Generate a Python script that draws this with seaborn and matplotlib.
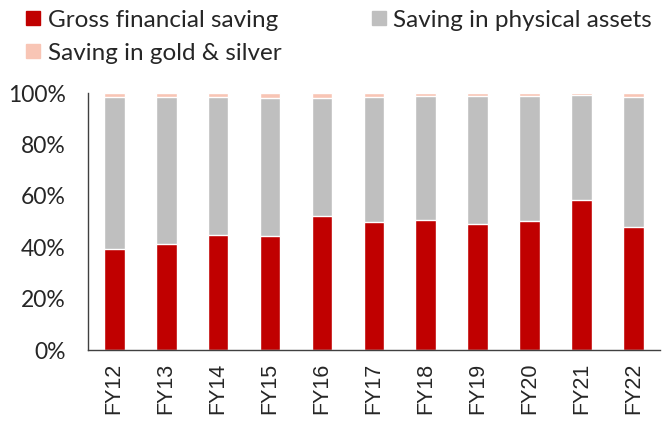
import pandas as pd
import matplotlib.pyplot as plt
import seaborn as sns
from matplotlib.lines import Line2D

years = ["FY12", "FY13", "FY14", "FY15", "FY16", "FY17",
         "FY18", "FY19", "FY20", "FY21", "FY22"]
gross_financial = [39.4, 41.4, 44.9, 44.5, 52.3, 49.7, 50.7, 48.9, 50.2, 58.5, 47.9]
gold_silver = [1.5, 1.5, 1.5, 1.9, 1.9, 1.5, 1.2, 1.0, 1.0, 0.9, 1.5]
physical_assets = [100 - g - s for g, s in zip(gross_financial, gold_silver)]

labels = ["Gross financial saving", "Saving in physical assets",
          "Saving in gold & silver"]
colors = ["#C00000", "#BFBFBF", "#F8C5B5"]

df = pd.DataFrame({
    "year": years,
    "gross": gross_financial,
    "physical": physical_assets,
    "gold": gold_silver,
})
df["stack2"] = df["gross"] + df["physical"]
df["stack3"] = df["stack2"] + df["gold"]

sns.set_style("white")
plt.rcParams["font.family"] = ["Lato", "DejaVu Sans"]

fig = plt.figure(figsize=(6.63, 4.23), dpi=100)
ax = fig.add_axes([0.133, 0.172, 0.862, 0.608])

# stacked bars: draw cumulative totals back to front
for col, color in zip(["stack3", "stack2", "gross"], colors[::-1]):
    sns.barplot(data=df, x="year", y=col, color=color, width=0.4,
                saturation=1, ax=ax)

ax.set_xlim(-0.5, len(years) - 0.5)
ax.set_ylim(0, 100)
ax.set_yticks(range(0, 101, 20))
ax.set_yticklabels([f"{v}%" for v in range(0, 101, 20)], fontsize=16.5)
ax.set_xlabel("")
ax.set_ylabel("")

ax.set_xticks(range(len(years)))
ax.set_xticklabels(years, rotation=90, fontsize=15.5,
                   family="Liberation Sans")
ax.set_xticks([i - 0.5 for i in range(len(years) + 1)], minor=True)
ax.tick_params(axis="x", which="major", length=0, pad=9)
ax.tick_params(axis="x", which="minor", length=6, width=1,
               color="#404040", direction="out")
ax.tick_params(axis="y", length=6, width=1, color="#404040",
               direction="out", pad=10)

sns.despine(ax=ax)
for side in ["left", "bottom"]:
    ax.spines[side].set_color("#404040")
    ax.spines[side].set_linewidth(1)

# legend filled column-wise, so order puts gold under gross
order = [0, 2, 1]
handles = [Line2D([], [], marker="s", linestyle="none", markersize=10,
                  markerfacecolor=colors[i], markeredgecolor=colors[i])
           for i in order]
fig.legend(handles, [labels[i] for i in order], loc="upper left",
           bbox_to_anchor=(0.021, 1.0), ncol=2, frameon=False,
           fontsize=17.5, handlelength=0.8, handletextpad=0.2,
           columnspacing=3.6, labelspacing=0.5, borderaxespad=0.0)

plt.savefig("out.png", dpi=100)
plt.close()
